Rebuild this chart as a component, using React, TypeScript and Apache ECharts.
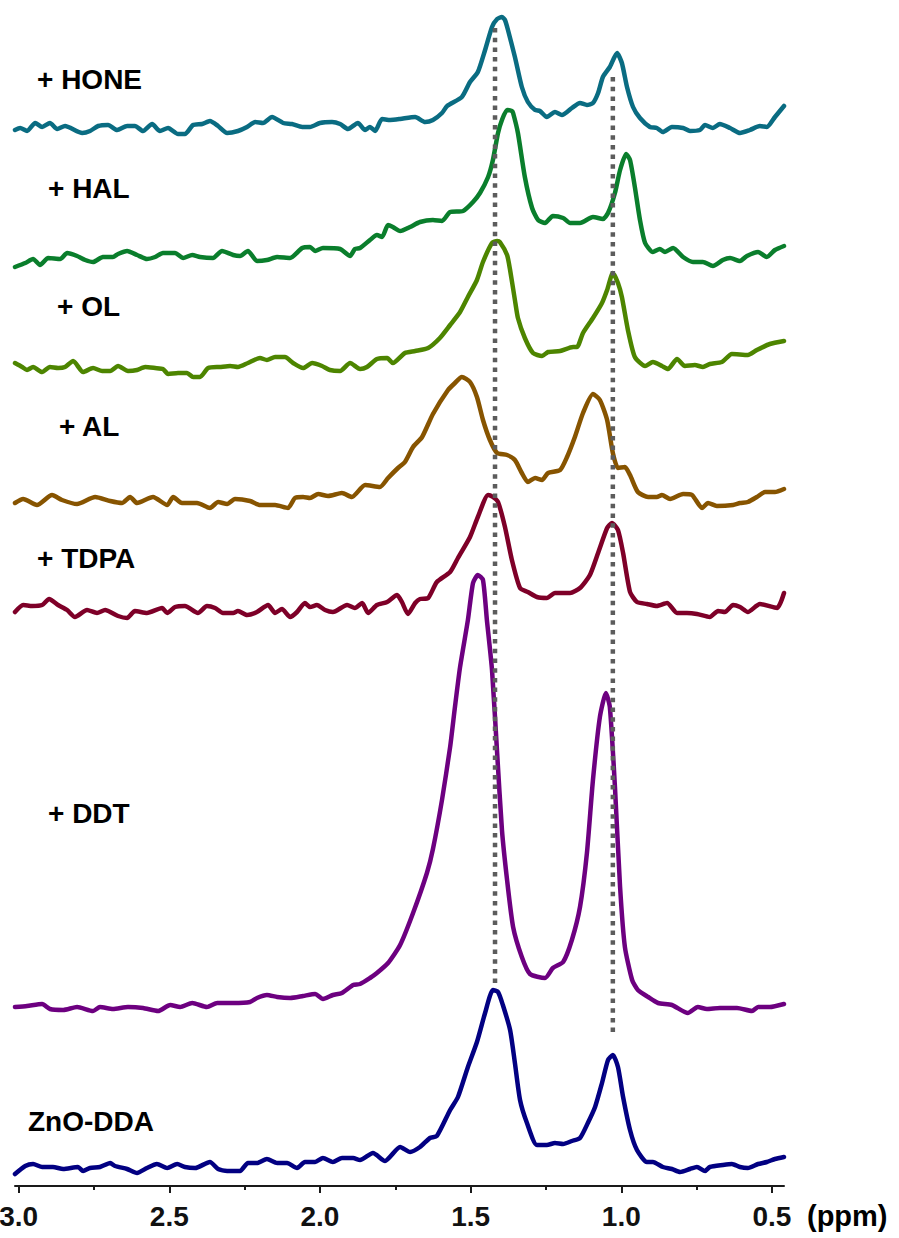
import React, { useEffect, useRef } from "react";
import * as echarts from "echarts";

// x: chemical shift (ppm), y: intensity (a.u.) relative to each trace's baseline
const hone: [number, number][] = [
  [3.012, 0], [2.995, 2], [2.972, -1], [2.945, 7], [2.922, 3], [2.896, 7], [2.872, 1], [2.846, 4],
  [2.789, -3], [2.763, -1], [2.736, 4], [2.703, 5], [2.673, 0], [2.64, 4], [2.614, 4], [2.587, -1],
  [2.557, 6], [2.531, -1], [2.504, 2], [2.471, -4], [2.448, -4], [2.421, 5], [2.391, 6], [2.365, 9],
  [2.338, 4], [2.308, -3], [2.272, -1], [2.242, 3], [2.215, 8], [2.189, 7], [2.159, 13], [2.122, 7],
  [2.093, 6], [2.059, 3], [2.033, 3], [2.0, 7], [1.96, 8], [1.933, 6], [1.907, 1], [1.874, 7],
  [1.85, 0], [1.834, 3], [1.817, -1], [1.794, 11], [1.767, 10], [1.734, 11], [1.684, 13], [1.651, 8],
  [1.625, 10], [1.595, 17], [1.578, 24], [1.529, 33], [1.502, 48], [1.476, 58], [1.452, 80], [1.429, 103],
  [1.412, 111], [1.396, 113], [1.386, 110], [1.376, 100], [1.353, 73], [1.33, 43], [1.31, 28], [1.286, 20],
  [1.27, 19], [1.247, 13], [1.22, 18], [1.197, 15], [1.164, 22], [1.137, 27], [1.114, 25], [1.094, 27],
  [1.077, 37], [1.061, 53], [1.038, 63], [1.014, 77], [0.998, 67], [0.981, 43], [0.961, 23], [0.938, 12],
  [0.905, 3], [0.882, 2], [0.862, -2], [0.832, 3], [0.795, 2], [0.772, -1], [0.739, 0], [0.722, 5],
  [0.696, 2], [0.673, 6], [0.639, 2], [0.606, -3], [0.573, 0], [0.54, 4], [0.517, 3], [0.49, 13], [0.46, 24],
];

const hal: [number, number][] = [
  [3.012, -7], [2.978, -3], [2.952, 1], [2.929, -5], [2.902, 2], [2.862, 1], [2.839, 7], [2.806, 4],
  [2.779, 0], [2.753, -2], [2.72, 3], [2.687, 3], [2.67, 6], [2.64, 9], [2.607, 5], [2.574, 1],
  [2.547, 3], [2.521, 7], [2.481, 7], [2.454, 2], [2.424, 5], [2.398, 3], [2.355, 2], [2.325, 9],
  [2.288, 5], [2.265, 4], [2.239, 9], [2.209, -1], [2.176, 0], [2.142, 3], [2.099, 2], [2.059, 12],
  [2.033, 13], [2.016, 9], [1.99, 12], [1.933, 11], [1.9, 4], [1.884, 11], [1.867, 12], [1.834, 20],
  [1.811, 25], [1.794, 23], [1.774, 35], [1.758, 33], [1.734, 29], [1.701, 33], [1.668, 38], [1.625, 40],
  [1.595, 39], [1.568, 48], [1.525, 49], [1.492, 58], [1.469, 67], [1.442, 83], [1.426, 100], [1.409, 127],
  [1.396, 140], [1.379, 150], [1.363, 149], [1.359, 147], [1.343, 127], [1.32, 83], [1.296, 52], [1.276, 40],
  [1.253, 37], [1.227, 44], [1.193, 42], [1.17, 37], [1.137, 37], [1.094, 43], [1.061, 41], [1.044, 47],
  [1.021, 67], [1.004, 90], [0.984, 106], [0.971, 100], [0.955, 73], [0.938, 40], [0.921, 17], [0.895, 8],
  [0.872, 11], [0.855, 8], [0.828, 12], [0.795, 3], [0.762, -2], [0.729, -2], [0.696, -6], [0.663, 0],
  [0.639, 2], [0.606, -1], [0.583, 4], [0.546, 8], [0.517, 3], [0.49, 10], [0.46, 14],
];

const ol: [number, number][] = [
  [3.012, 7], [2.988, 3], [2.972, 0], [2.952, 3], [2.922, -2], [2.896, 3], [2.869, 2], [2.846, 3],
  [2.819, 9], [2.786, -2], [2.753, 2], [2.723, -1], [2.696, -1], [2.67, 4], [2.637, -1], [2.607, 0],
  [2.58, 3], [2.547, 2], [2.521, 1], [2.504, -4], [2.471, -3], [2.441, -3], [2.421, -7], [2.398, -7],
  [2.371, 2], [2.332, 3], [2.298, 4], [2.272, 3], [2.239, 7], [2.199, 12], [2.176, 10], [2.149, 13],
  [2.116, 13], [2.089, 7], [2.056, 2], [2.026, 7], [1.993, 4], [1.967, 0], [1.933, -1], [1.9, 7],
  [1.867, 1], [1.844, 3], [1.811, 11], [1.777, 12], [1.758, 7], [1.718, 17], [1.684, 19], [1.641, 22],
  [1.602, 32], [1.568, 45], [1.535, 58], [1.509, 73], [1.479, 90], [1.459, 108], [1.429, 127], [1.412, 129],
  [1.403, 128], [1.379, 115], [1.369, 100], [1.353, 70], [1.343, 52], [1.32, 32], [1.293, 17], [1.263, 14],
  [1.243, 18], [1.203, 19], [1.16, 23], [1.147, 23], [1.127, 37], [1.094, 52], [1.064, 67], [1.047, 80],
  [1.028, 97], [1.011, 87], [0.998, 73], [0.978, 40], [0.955, 13], [0.921, 4], [0.895, 8], [0.865, 4],
  [0.845, 1], [0.815, 11], [0.789, 4], [0.756, 5], [0.729, 3], [0.706, 6], [0.666, 8], [0.633, 16],
  [0.58, 15], [0.55, 20], [0.507, 26], [0.46, 29],
];

const al: [number, number][] = [
  [3.012, 2], [2.985, 6], [2.939, 0], [2.889, 10], [2.856, 5], [2.806, 1], [2.746, 8], [2.696, 4],
  [2.657, 2], [2.63, 8], [2.607, 2], [2.554, 8], [2.507, 0], [2.487, 8], [2.458, 2], [2.408, 2],
  [2.365, -3], [2.338, 3], [2.308, 1], [2.282, 6], [2.232, 4], [2.199, 0], [2.149, 0], [2.106, -3],
  [2.083, 7], [2.056, 8], [2.033, 7], [2.006, 11], [1.973, 9], [1.927, 12], [1.894, 8], [1.85, 20],
  [1.801, 18], [1.774, 27], [1.741, 37], [1.718, 43], [1.691, 58], [1.661, 68], [1.625, 91], [1.575, 115],
  [1.552, 122], [1.529, 128], [1.502, 123], [1.479, 108], [1.459, 85], [1.436, 65], [1.412, 52], [1.379, 50],
  [1.353, 45], [1.33, 32], [1.31, 23], [1.286, 27], [1.263, 25], [1.243, 32], [1.203, 35], [1.18, 48],
  [1.154, 68], [1.127, 92], [1.094, 111], [1.071, 105], [1.047, 85], [1.028, 52], [1.011, 37], [0.988, 38],
  [0.971, 30], [0.945, 13], [0.911, 8], [0.882, 8], [0.865, 10], [0.838, 6], [0.795, 11], [0.765, 10],
  [0.732, -3], [0.712, 2], [0.683, -1], [0.629, 0], [0.606, 2], [0.58, 3], [0.55, 8], [0.523, 13],
  [0.49, 13], [0.46, 16],
];

const tdpa: [number, number][] = [
  [3.012, 0], [2.985, 7], [2.955, 6], [2.922, 7], [2.899, 13], [2.869, 7], [2.839, 2], [2.813, -5],
  [2.773, 2], [2.74, -1], [2.713, 2], [2.67, -4], [2.64, -6], [2.614, 1], [2.574, -1], [2.524, 4],
  [2.507, -1], [2.481, 5], [2.448, 6], [2.405, -1], [2.375, 6], [2.348, 4], [2.322, -1], [2.288, -1],
  [2.272, 1], [2.242, -3], [2.209, 0], [2.172, 7], [2.149, -1], [2.126, 3], [2.099, -5], [2.076, 0],
  [2.05, 9], [2.033, 5], [2.01, 7], [1.983, 2], [1.957, 0], [1.91, 7], [1.884, 4], [1.86, 9],
  [1.84, -1], [1.811, 7], [1.777, 10], [1.744, 17], [1.728, 10], [1.708, -2], [1.684, 9], [1.668, 13],
  [1.641, 14], [1.612, 30], [1.568, 40], [1.542, 54], [1.502, 75], [1.476, 95], [1.442, 117], [1.426, 115],
  [1.409, 110], [1.386, 85], [1.363, 52], [1.336, 24], [1.31, 20], [1.28, 15], [1.247, 14], [1.22, 19],
  [1.17, 19], [1.137, 24], [1.104, 37], [1.077, 59], [1.047, 84], [1.031, 89], [1.011, 82], [0.994, 59],
  [0.971, 20], [0.948, 10], [0.915, 8], [0.882, 6], [0.848, 9], [0.815, -1], [0.782, -1], [0.749, -2],
  [0.706, -5], [0.679, 1], [0.656, 0], [0.629, 7], [0.606, 5], [0.58, 0], [0.54, 8], [0.483, 4], [0.46, 19],
];

const ddt: [number, number][] = [
  [3.012, 3], [2.972, 4], [2.922, 6], [2.896, 1], [2.852, 0], [2.806, 3], [2.753, -1], [2.73, 3],
  [2.687, 1], [2.637, 3], [2.587, 2], [2.537, -1], [2.497, 5], [2.464, 3], [2.424, 7], [2.375, 3],
  [2.341, 7], [2.288, 7], [2.232, 8], [2.209, 12], [2.176, 15], [2.142, 13], [2.099, 12], [2.056, 14],
  [2.016, 16], [1.99, 11], [1.957, 15], [1.927, 17], [1.89, 25], [1.867, 26], [1.834, 32], [1.811, 37],
  [1.774, 47], [1.734, 65], [1.691, 97], [1.645, 137], [1.625, 161], [1.595, 210], [1.568, 263], [1.552, 303],
  [1.535, 343], [1.509, 390], [1.492, 427], [1.476, 435], [1.459, 430], [1.446, 390], [1.429, 340], [1.412, 257],
  [1.396, 180], [1.379, 130], [1.359, 83], [1.33, 53], [1.303, 36], [1.253, 32], [1.227, 42], [1.193, 48],
  [1.164, 70], [1.137, 103], [1.114, 157], [1.094, 230], [1.071, 293], [1.051, 317], [1.038, 303], [1.021, 223],
  [1.004, 123], [0.988, 63], [0.964, 30], [0.945, 20], [0.911, 13], [0.878, 7], [0.832, 5], [0.779, -3],
  [0.746, 3], [0.716, 1], [0.673, 2], [0.616, 2], [0.566, -1], [0.546, 3], [0.507, 3], [0.46, 6],
];

const znoDda: [number, number][] = [
  [3.012, -4], [2.978, 4], [2.952, 6], [2.922, 3], [2.886, 3], [2.852, 1], [2.803, 3], [2.786, -1],
  [2.763, 2], [2.73, 3], [2.696, 7], [2.68, 4], [2.64, 1], [2.607, -3], [2.574, 2], [2.541, 6],
  [2.507, 2], [2.474, 6], [2.448, 3], [2.414, 2], [2.365, 8], [2.338, 1], [2.308, -1], [2.265, -1],
  [2.239, 7], [2.209, 7], [2.176, 11], [2.142, 7], [2.109, 7], [2.076, 2], [2.05, 8], [2.016, 8],
  [1.99, 12], [1.957, 8], [1.927, 12], [1.89, 12], [1.867, 10], [1.824, 17], [1.784, 9], [1.734, 23],
  [1.701, 18], [1.668, 23], [1.635, 32], [1.612, 34], [1.568, 60], [1.542, 73], [1.509, 103], [1.479, 128],
  [1.452, 157], [1.426, 180], [1.409, 178], [1.393, 165], [1.369, 140], [1.353, 107], [1.336, 70], [1.313, 47],
  [1.28, 25], [1.247, 25], [1.22, 27], [1.193, 26], [1.164, 29], [1.137, 32], [1.111, 47], [1.087, 63],
  [1.064, 87], [1.044, 110], [1.028, 115], [1.011, 103], [0.994, 73], [0.971, 40], [0.948, 20], [0.915, 8],
  [0.895, 8], [0.862, 3], [0.832, 1], [0.805, -2], [0.772, 1], [0.749, 3], [0.722, -1], [0.706, 3],
  [0.663, 5], [0.633, 6], [0.606, 3], [0.58, 2], [0.546, 6], [0.517, 8], [0.49, 11], [0.46, 13],
];

const sampleNames = ["+ HONE", "+ HAL", "+ OL", "+ AL", "+ TDPA", "+ DDT", "ZnO-DDA"];
const spectra = [hone, hal, ol, al, tdpa, ddt, znoDda];
const stackOffsets = [1056, 926, 816, 681, 574, 176, 16];

// reference peak positions (ppm) with vertical extents (stacked a.u.)
const refPeaks = [1.419, 1.028];
const refTop = [1158, 1109];
const refBottom = [201, 149];

const majorTicks = [0.5, 1.0, 1.5, 2.0, 2.5, 3.0];
const minorTicks = [0.75, 1.25, 1.75, 2.25, 2.75];

const colors = ["#0a6c82", "#0a7e2c", "#4d8500", "#875400", "#7e0028", "#6d0080", "#020082"];
const labelPos = [
  [37, 79], [48, 188], [57, 306], [59, 426], [37, 558], [48, 813], [28, 1121],
];

const FONT = "'Liberation Sans', Arial, Helvetica, sans-serif";

export default function App() {
  const ref = useRef<HTMLDivElement>(null);
  useEffect(() => {
    if (!ref.current) return;
    const chart = echarts.init(ref.current, undefined, { renderer: "svg" });
    const series: any[] = spectra.map((s, i) => ({
      name: sampleNames[i],
      type: "line",
      data: s.map(([p, v]) => [p, v + stackOffsets[i]]),
      showSymbol: false,
      smooth: 0.2,
      lineStyle: { color: colors[i], width: 4.5, join: "round", cap: "round" },
      z: 2,
    }));
    refPeaks.forEach((p, i) => {
      series.push({
        type: "line",
        data: [[p, refTop[i]], [p, refBottom[i]]],
        showSymbol: false,
        lineStyle: { color: "#5c5c5c", width: 4.5, type: [4.5, 5.2], cap: "butt" },
        z: 5,
      });
    });
    chart.setOption({
      animation: false,
      backgroundColor: "#ffffff",
      grid: { left: 15, right: 115, top: 0, bottom: 52, containLabel: false, outerBoundsMode: "none" },
      xAxis: [
        {
          type: "value",
          min: 0.46,
          max: 3.012,
          inverse: true,
          position: "bottom",
          axisLine: { show: true, onZero: false, lineStyle: { color: "#1a1a1a", width: 2 } },
          axisTick: { show: true, customValues: majorTicks, length: 7, lineStyle: { color: "#1a1a1a", width: 2 } },
          axisLabel: {
            customValues: majorTicks,
            formatter: (v: number) => v.toFixed(1),
            margin: 16,
            fontSize: 28,
            lineHeight: 28,
            fontWeight: "bold",
            fontFamily: FONT,
            color: "#111",
          },
          splitLine: { show: false },
        },
        {
          type: "value",
          min: 0.46,
          max: 3.012,
          inverse: true,
          position: "bottom",
          axisLine: { show: false },
          axisTick: { show: true, customValues: minorTicks, length: 4, lineStyle: { color: "#1a1a1a", width: 2 } },
          axisLabel: { show: false },
          splitLine: { show: false },
        },
      ],
      yAxis: { type: "value", min: 0, max: 1186, show: false },
      series,
      graphic: [
        ...sampleNames.map((n, i) => ({
          type: "text",
          x: labelPos[i][0],
          y: labelPos[i][1],
          style: {
            text: n,
            fontSize: 28,
            fontWeight: "bold",
            fontFamily: FONT,
            fill: "#000",
            align: "left",
            verticalAlign: "middle",
          },
        })),
        {
          type: "text",
          x: 807,
          y: 1216,
          style: {
            text: "(ppm)",
            fontSize: 29,
            fontWeight: "bold",
            fontFamily: FONT,
            fill: "#000",
            align: "left",
            verticalAlign: "middle",
          },
        },
      ],
    });
    return () => chart.dispose();
  }, []);
  return (
    <div
      ref={ref}
      style={{ position: "absolute", left: 0, top: 0, width: 899, height: 1238, background: "#fff" }}
    />
  );
}
